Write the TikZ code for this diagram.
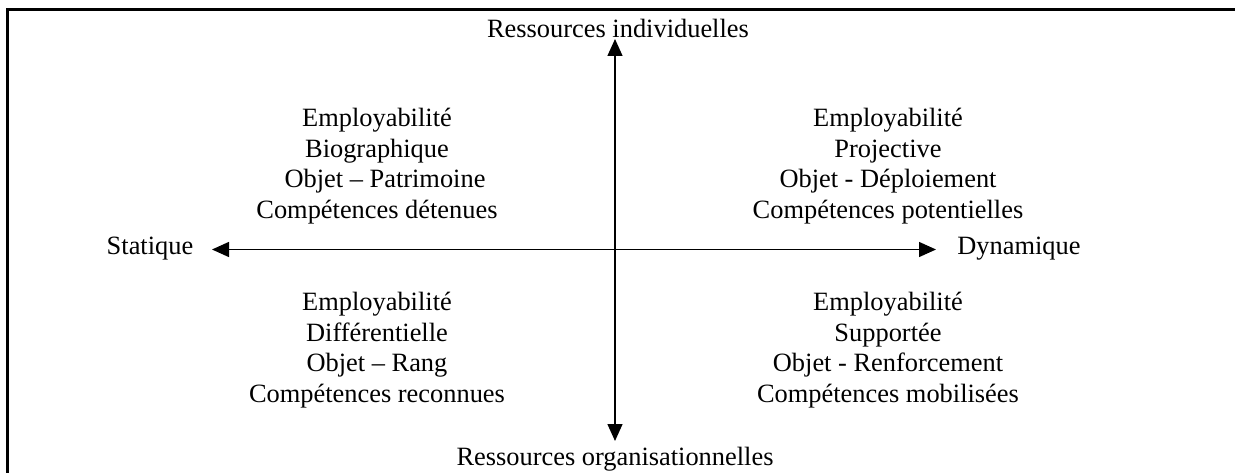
\documentclass[tikz,border=0pt]{standalone}
\usepackage{fontspec}
\setmainfont{Liberation Serif}
\usetikzlibrary{arrows.meta}
\tikzset{
  lbl/.style={inner sep=0pt, font=\fontsize{26.4pt}{30.5pt}\selectfont},
  quad/.style={lbl, align=center},
  axis/.style={line width=1.4pt, {Triangle[length=17pt,width=15pt]}-{Triangle[length=17pt,width=15pt]}},
  frame/.style={line width=3pt}
}
\begin{document}
\begin{tikzpicture}[x=1pt,y=-1pt]
\useasboundingbox (0,0) rectangle (1235,473);
% frame (top and left sides visible)
\draw[frame] (7,474) -- (7,10) -- (1236,10);
% axes
\coordinate (top) at (615,39);
\coordinate (bot) at (615,441);
\coordinate (lft) at (212,249.5);
\coordinate (rgt) at (936,249.5);
\draw[axis] (top) -- (bot);
\draw[axis] (lft) -- (rgt);
% axis labels
\node[lbl] (ri) at (618,28) {Ressources individuelles};
\node[lbl] (ro) at (615,459) {Ressources organisationnelles};
\node[lbl] (st) at (150,249) {Statique};
\node[lbl] (dy) at (1019,249) {Dynamique};
% quadrants
\node[quad] (q1) at (377,166) {Employabilité\\Biographique\\\hspace*{16pt}Objet – Patrimoine\\Compétences détenues};
\node[quad] (q2) at (888,166) {Employabilité\\Projective\\Objet - Déploiement\\Compétences potentielles};
\node[quad] (q3) at (377,350) {Employabilité\\Différentielle\\Objet – Rang\\Compétences reconnues};
\node[quad] (q4) at (888,350) {Employabilité\\Supportée\\Objet - Renforcement\\Compétences mobilisées};
\end{tikzpicture}
\end{document}
